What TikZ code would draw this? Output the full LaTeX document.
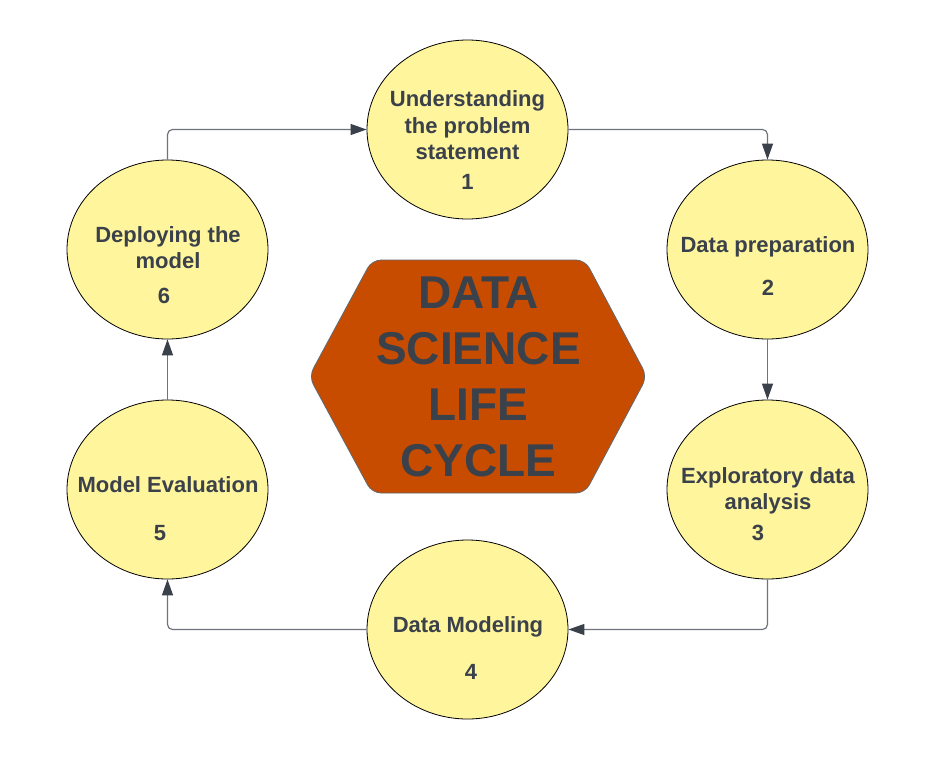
\documentclass[tikz,border=0pt]{standalone}
\usepackage{fontspec}
\setmainfont{Liberation Sans}
\usetikzlibrary{shapes.geometric,arrows.meta}
\definecolor{stagefill}{HTML}{FFF59D}
\definecolor{hexfill}{HTML}{C84C00}
\definecolor{ink}{HTML}{3A414A}
\definecolor{wire}{HTML}{6E737C}

\begin{document}
\begin{tikzpicture}[x=1pt,y=-1pt,
  stage/.style={ellipse, draw=black, line width=0.8pt, fill=stagefill,
    minimum width=201pt, minimum height=179pt, inner sep=0pt},
  lbl/.style={text=ink, font=\bfseries\fontsize{22}{26.5}\selectfont,
    align=center, anchor=base, inner sep=0pt},
  hublbl/.style={text=ink, font=\bfseries\fontsize{46}{56}\selectfont,
    align=center, anchor=base, inner sep=0pt},
  flow/.style={draw=wire, line width=1.2pt, rounded corners=5pt,
    -{Triangle[length=16pt,width=11pt,color=ink]}},
]
\useasboundingbox (0,0) rectangle (937,760);

% the six stages
\node[stage] (c1) at (467.5,129.5) {};
\node[stage] (c2) at (767.5,249.5) {};
\node[stage] (c3) at (767.5,489.5) {};
\node[stage] (c4) at (467.5,629.5) {};
\node[stage] (c5) at (167.5,489.5) {};
\node[stage] (c6) at (167.5,249.5) {};

% stage titles (anchored on the last line) and numbers
\node[lbl] (t1) at (467.5,159.5) {Understanding\\the problem\\statement};
\node[lbl] (n1) at (467.5,189.5) {1};
\node[lbl] (t2) at (768,252.5) {Data preparation};
\node[lbl] (n2) at (768,295.5) {2};
\node[lbl] (t3) at (768,509.5) {Exploratory data\\analysis};
\node[lbl] (n3) at (758,540.5) {3};
\node[lbl] (t4) at (468,632.5) {Data Modeling};
\node[lbl] (n4) at (471,679.5) {4};
\node[lbl] (t5) at (168,492.5) {Model Evaluation};
\node[lbl] (n5) at (160,540.5) {5};
\node[lbl] (t6) at (168,268.5) {Deploying the\\model};
\node[lbl] (n6) at (164,303.5) {6};

% central hexagon
\draw[fill=hexfill, draw=ink!80, line width=0.8pt, rounded corners=9pt]
  (372,260) -- (585,260) -- (647,376.5) -- (585,493) -- (372,493)
  -- (309,376.5) -- cycle;
\node[hublbl] (hub) at (478.5,476.5) {DATA\\SCIENCE\\LIFE\\CYCLE};

% cycle connectors
\draw[flow] (c6.north) |- (c1.west);
\draw[flow] (c1.east) -| (c2.north);
\draw[flow] (c2.south) -- (c3.north);
\draw[flow] (c3.south) |- (c4.east);
\draw[flow] (c4.west) -| (c5.south);
\draw[flow] (c5.north) -- (c6.south);
\end{tikzpicture}
\end{document}
